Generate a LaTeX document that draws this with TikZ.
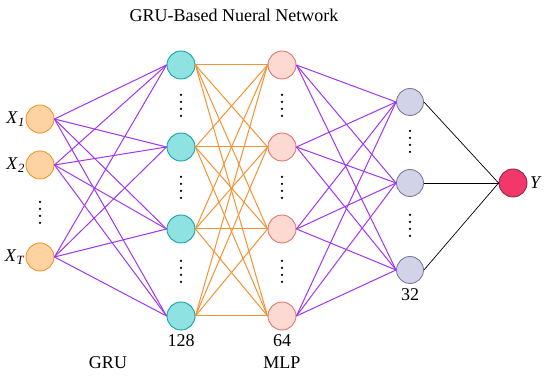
\documentclass[tikz,border=0pt]{standalone}
\usepackage{fontspec}
\setmainfont{Liberation Serif}
\begin{document}
\begin{tikzpicture}[x=1pt,y=-1pt,
  neuron/.style={circle,minimum size=28pt,inner sep=0pt,line width=0.9pt},
  inp/.style={neuron,draw=inpB,fill=inpF},
  gru/.style={neuron,draw=gruB,fill=gruF},
  mlp/.style={neuron,draw=mlpB,fill=mlpF},
  hid/.style={neuron,minimum size=27pt,draw=hidB,fill=hidF},
  outn/.style={neuron,draw=outB,fill=outF},
  purp/.style={draw=purpL,line width=1pt},
  oran/.style={draw=oranL,line width=1pt},
  blk/.style={draw=black,line width=0.7pt},
  lbl/.style={font=\fontsize{18}{20}\selectfont,inner sep=0pt},
  vdot/.style={circle,fill=black,inner sep=0pt,minimum size=2.5pt}
]
\definecolor{inpF}{HTML}{FDD3A2}
\definecolor{inpB}{HTML}{EE9430}
\definecolor{gruF}{HTML}{8EE2E2}
\definecolor{gruB}{HTML}{16A3A3}
\definecolor{mlpF}{HTML}{FDD9D3}
\definecolor{mlpB}{HTML}{E0766B}
\definecolor{hidF}{HTML}{D3D3E8}
\definecolor{hidB}{HTML}{7C7CA2}
\definecolor{outF}{HTML}{F2386A}
\definecolor{outB}{HTML}{8A2A45}
\definecolor{purpL}{HTML}{A035F5}
\definecolor{oranL}{HTML}{F59232}
\useasboundingbox (0,0) rectangle (550,379);

% nodes
\node[inp] (x1) at (40,119) {};
\node[inp] (x2) at (40,165) {};
\node[inp] (xt) at (40,257) {};
\foreach \i/\y in {1/65,2/147,3/229,4/316}{
  \node[gru] (g\i) at (181,\y) {};
  \node[mlp] (m\i) at (282,\y) {};
}
\node[hid] (h1) at (410,102) {};
\node[hid] (h2) at (410,183) {};
\node[hid] (h3) at (410,270) {};
\node[outn] (y) at (513,183) {};

% connectors
\foreach \a in {x1,x2,xt}{
  \foreach \b in {g1,g2,g3,g4}{
    \draw[purp] (\a.east) -- (\b.west);
  }
}
\foreach \a in {g1,g2,g3,g4}{
  \foreach \b in {m1,m2,m3,m4}{
    \draw[oran] (\a.east) -- (\b.west);
  }
}
\foreach \a in {m1,m2,m3,m4}{
  \foreach \b in {h1,h2,h3}{
    \draw[purp] (\a.east) -- (\b.west);
  }
}
\foreach \a in {h1,h2,h3}{
  \draw[blk] (\a.east) -- (y.west);
}

% dots
\foreach \yy in {202,209,216,223}{ \node[vdot] (dx\yy) at (40,\yy) {}; }
\foreach \c in {106,188,272}{
  \foreach \d in {-11,-4,3,10}{
    \node[vdot] (dg\c\d) at (181,\c+\d) {};
    \node[vdot] (dm\c\d) at (282,\c+\d) {};
  }
}
\foreach \c in {142,226}{
  \foreach \d in {-11,-4,3,10}{
    \node[vdot] (dh\c\d) at (410,\c+\d) {};
  }
}

% labels
\node[lbl] (title) at (234,15) {GRU-Based Nueral Network};
\node[lbl,anchor=east] (lx1) at (25,119) {\textit{X}\textsubscript{\textit{1}}};
\node[lbl,anchor=east] (lx2) at (25,165) {\textit{X}\textsubscript{\textit{2}}};
\node[lbl,anchor=east] (lxt) at (25,257) {\textit{X}\textsubscript{\textit{T}}};
\node[lbl,anchor=west] (ly) at (530,183) {\textit{Y}};
\node[lbl] (n128) at (181,341) {128};
\node[lbl] (n64) at (282,341) {64};
\node[lbl] (n32) at (410,295) {32};
\node[lbl] (lgru) at (108,363) {GRU};
\node[lbl] (lmlp) at (282,363) {MLP};
\end{tikzpicture}
\end{document}
